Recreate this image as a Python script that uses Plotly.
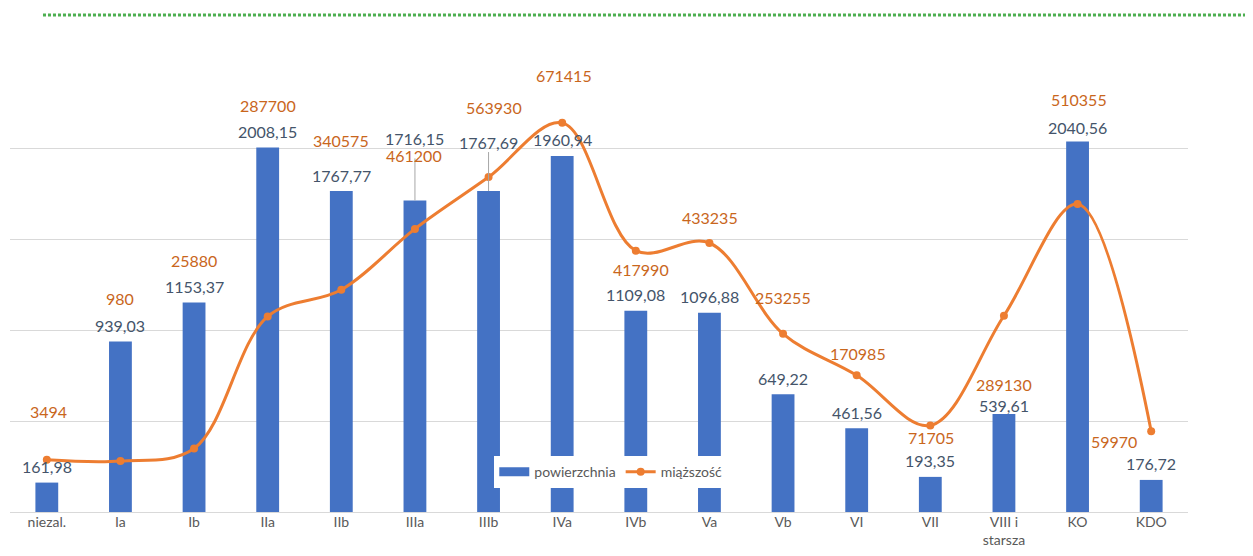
import plotly.graph_objects as go

categories = ["niezal.", "Ia", "Ib", "IIa", "IIb", "IIIa", "IIIb", "IVa", "IVb",
              "Va", "Vb", "VI", "VII", "VIII i<br>starsza", "KO", "KDO"]
powierzchnia = [161.98, 939.03, 1153.37, 2008.15, 1767.77, 1716.15, 1767.69, 1960.94,
                1109.08, 1096.88, 649.22, 461.56, 193.35, 539.61, 2040.56, 176.72]
miazszosc = [3494, 980, 25880, 287700, 340575, 461200, 563930, 671415,
             417990, 433235, 253255, 170985, 71705, 289130, 510355, 59970]

# label placement offsets (pixels), mimicking the manually moved labels
bar_label_shift = [16, 16, 16, 16, 16, 62, 49, 16, 16, 16, 16, 16, 16, 9, 14, 16]
line_label_shift = [48, 163, 188, 211, 149, 73, 70, 47, -19, 26, 36, 22, -12, -69, 105, -10]
line_label_xshift = [2, 0, 0, 0, 0, -1, 5, 2, 5, 1, 0, 1, 1, 0, 1, -37]

BAR_C = "#4472C4"
LINE_C = "#ED7D31"
BAR_TXT = "#44546A"
LINE_TXT = "#C9661C"
FONT = "Lato"

fig = go.Figure()
fig.add_trace(go.Bar(x=categories, y=powierzchnia, name="powierzchnia", showlegend=False,
                     legendgroup="p",
                     marker=dict(color=BAR_C, line=dict(width=0)), width=0.31))
# legend entry for the bars drawn as a wide rectangle (Excel style)
fig.add_trace(go.Scatter(x=[None], y=[None], name="powierzchnia", mode="lines",
                         legendgroup="p", line=dict(color=BAR_C, width=9)))
fig.add_trace(go.Scatter(x=categories, y=miazszosc, name="miąższość", yaxis="y2",
                         mode="lines+markers",
                         line=dict(color=LINE_C, width=3, shape="spline", smoothing=1.0),
                         marker=dict(color=LINE_C, size=8)))

def fmt(v):
    return f"{v:.2f}".replace(".", ",")

for i, (c, v) in enumerate(zip(categories, powierzchnia)):
    fig.add_annotation(x=c, y=v, xref="x", yref="y", text=fmt(v), showarrow=False,
                       yshift=bar_label_shift[i], font=dict(family=FONT, size=16, color=BAR_TXT))

for i, (c, v) in enumerate(zip(categories, miazszosc)):
    fig.add_annotation(x=c, y=v, xref="x", yref="y2", text=str(v), showarrow=False,
                       yshift=line_label_shift[i], xshift=line_label_xshift[i],
                       font=dict(family=FONT, size=16, color=LINE_TXT))

# leader lines for moved labels (IIIa, IIIb)
for idx in (5, 6):
    top = 42 if idx == 5 else 39
    fig.add_shape(type="line", xref="x", yref="y", x0=idx, x1=idx,
                  ysizemode="pixel", yanchor=powierzchnia[idx], y0=0, y1=top,
                  line=dict(color="#A6A6A6", width=1), layer="above")

# decorative dashed green frame line at top
fig.add_shape(type="line", xref="paper", yref="paper", x0=0.028, x1=1.06, y0=1.0947, y1=1.0947,
              line=dict(color="#4CAF50", width=3, dash="3px,2px"))

fig.update_layout(
    width=1245, height=548,
    margin=dict(l=2, r=65, t=50, b=44),
    paper_bgcolor="white", plot_bgcolor="white",
    font=dict(family=FONT, size=14, color="#595959"),
    showlegend=True,
    legend=dict(orientation="h", x=0.51, y=0.088, xanchor="center", yanchor="middle",
                bgcolor="white", font=dict(family=FONT, size=14, color="#595959"),
                traceorder="normal"),
    xaxis=dict(type="category", range=[-0.5, len(categories) - 0.5], showgrid=False,
               showline=False, ticks="",
               tickfont=dict(family=FONT, size=14, color="#595959")),
    yaxis=dict(range=[0, 2500.5], dtick=500, showgrid=True, gridcolor="#D9D9D9", gridwidth=1,
               showticklabels=False, zeroline=True, zerolinecolor="#D9D9D9", zerolinewidth=1),
    yaxis2=dict(range=[-100000, 800000], overlaying="y", side="right", showgrid=False,
                showticklabels=False, zeroline=False),
)

fig.write_html("out.html")
